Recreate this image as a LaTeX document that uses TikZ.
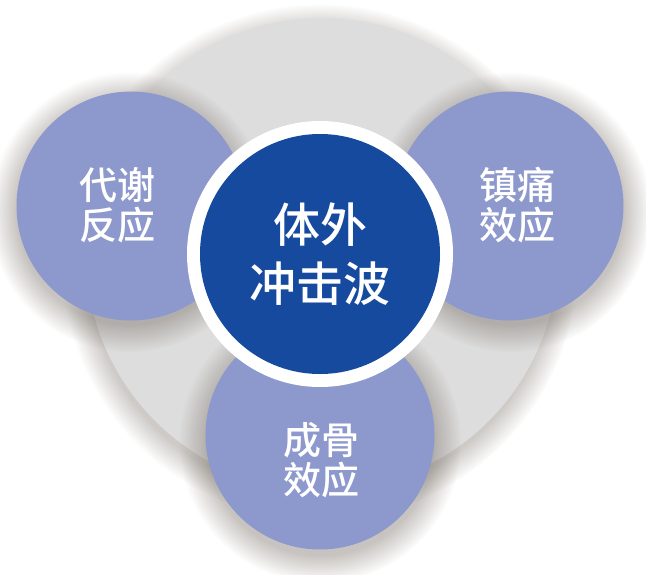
\documentclass[tikz,border=0pt]{standalone}
\usepackage{fontspec}
\newfontfamily\cjk{Noto Sans CJK SC}[UprightFont={* Medium}]
\usetikzlibrary{fadings}
\definecolor{basegrey}{RGB}{221,221,221}
\definecolor{lilac}{RGB}{141,152,204}
\definecolor{deepblue}{RGB}{22,74,158}
\definecolor{shadowtone}{RGB}{100,90,80}
\tikzset{
  disc/.style={circle, inner sep=0pt, draw=none},
  basedisc/.style={disc, fill=basegrey, minimum size=472pt},
  effect/.style={disc, fill=lilac, minimum size=229pt},
  ringdisc/.style={disc, fill=white, minimum size=266pt},
  coredisc/.style={disc, fill=deepblue, minimum size=240pt},
  softshadow/.style={fill=shadowtone, opacity=0.36, path fading=circle with fuzzy edge 20 percent},
  baseshadow/.style={fill=shadowtone, opacity=0.32, path fading=circle with fuzzy edge 10 percent},
  smalltext/.style={text=white, align=center, inner sep=0pt,
    font=\cjk\fontsize{38}{40}\selectfont},
  bigtext/.style={text=white, align=center, inner sep=0pt,
    font=\cjk\fontsize{47}{59}\selectfont},
}
\begin{document}
\begin{tikzpicture}[x=1pt,y=-1pt]
\useasboundingbox (0,0) rectangle (646,574);
% soft shadows
\fill[baseshadow] (320,262) circle (258pt);
\node[basedisc] (base) at (322,254) {};
\fill[softshadow] (129,212) circle (140pt);
\fill[softshadow] (511,212) circle (140pt);
\fill[softshadow] (320,442) circle (141pt);
\node[effect] (metab) at (131,206) {};
\node[effect] (pain) at (509,206) {};
\node[effect] (bone) at (320,435) {};
\node[ringdisc] (ring) at (320,254) {};
\node[coredisc] (core) at (ring.center) {};
\node[smalltext] (metabtext) at (117,205) {代谢\\反应};
\node[smalltext] (paintext) at (517,205) {镇痛\\效应};
\node[smalltext] (bonetext) at (321,460) {成骨\\效应};
\node[bigtext] (coretext) at (320,254) {体外\\冲击波};
\end{tikzpicture}
\end{document}
